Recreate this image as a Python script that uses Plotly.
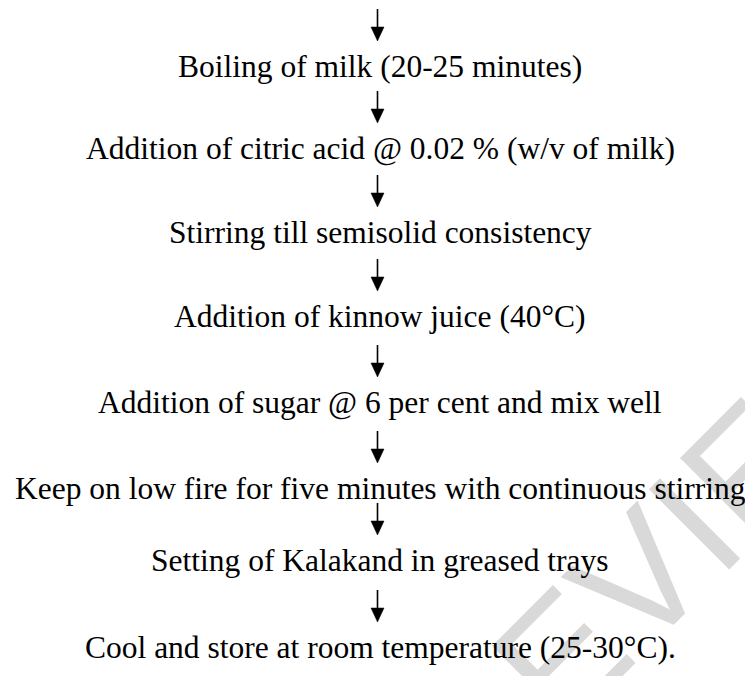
import plotly.graph_objects as go

# ---- content ----
steps = [
    "Boiling of milk (20-25 minutes)",
    "Addition of citric acid @ 0.02 % (w/v of milk)",
    "Stirring till semisolid consistency",
    "Addition of kinnow juice (40°C)",
    "Addition of sugar @ 6 per cent and mix well",
    "Keep on low fire for five minutes with continuous stirring",
    "Setting of Kalakand in greased trays",
    "Cool and store at room temperature (25-30°C).",
]
watermark = "REVIEW"

# ---- layout (pixel space of the page, y downward) ----
W, H = 753, 676
PAGE_MARGIN = 8          # default body margin of the html page
text_x = 380
arrow_x = 377.5
cap_top = [55, 137, 221, 305, 391, 477, 549, 636]   # top of capitals of each step line
cap_h = 20
font_size = 31.5
arrow_len = 32
head_h = 14
head_w = 13

fig = go.Figure()

# arrows: one above every step line
line_x, line_y, tri_x, tri_y = [], [], [], []
for ct in cap_top:
    bottom = ct - 14
    top = bottom - arrow_len
    line_x += [arrow_x, arrow_x, None]
    line_y += [top, bottom - head_h + 1, None]
    tri_x += [arrow_x - head_w / 2, arrow_x + head_w / 2, arrow_x, arrow_x - head_w / 2, None]
    tri_y += [bottom - head_h, bottom - head_h, bottom, bottom - head_h, None]

fig.add_trace(go.Scatter(x=line_x, y=line_y, mode="lines",
                         line=dict(color="black", width=1.6),
                         hoverinfo="skip", showlegend=False))
fig.add_trace(go.Scatter(x=tri_x, y=tri_y, mode="lines", fill="toself",
                         fillcolor="black", line=dict(color="black", width=0.5),
                         hoverinfo="skip", showlegend=False))

annotations = [
    dict(x=668, y=550, xref="x", yref="y", text=watermark, showarrow=False,
         textangle=-45, font=dict(family="Liberation Sans", size=165, color="#d9d9d9"),
         xanchor="center", yanchor="middle")
]
for s, ct in zip(steps, cap_top):
    annotations.append(dict(
        x=text_x, y=ct + cap_h / 2 + 1, xref="x", yref="y", text=s, showarrow=False,
        font=dict(family="Liberation Serif", size=font_size, color="black"),
        xanchor="center", yanchor="middle"))

fig.update_layout(
    width=W - PAGE_MARGIN, height=H - PAGE_MARGIN,
    margin=dict(l=0, r=0, t=0, b=0),
    paper_bgcolor="white", plot_bgcolor="white",
    xaxis=dict(range=[PAGE_MARGIN, W], visible=False, fixedrange=True),
    yaxis=dict(range=[H, PAGE_MARGIN], visible=False, fixedrange=True),
    annotations=annotations,
    showlegend=False,
)

fig.write_html("out.html")
